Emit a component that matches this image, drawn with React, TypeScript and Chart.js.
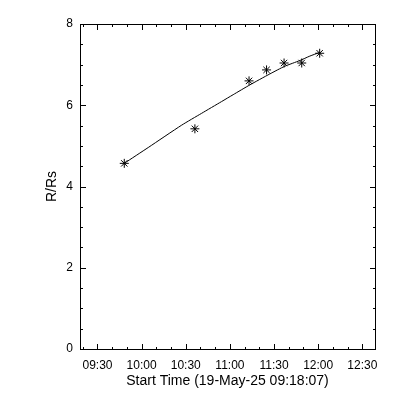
import React, { useEffect, useRef } from 'react';
import { Chart, registerables } from 'chart.js';

Chart.register(...registerables);

// Observed heights (asterisks)
const obsTimes = ['09:48:12', '10:36:12', '11:13:00', '11:24:54', '11:36:48', '11:48:48', '12:01:00'];
const obsValues = [4.57, 5.42, 6.6, 6.87, 7.04, 7.04, 7.28];

// Fitted curve
const fitTimes = ['09:48:12', '10:04:30', '10:27:12', '10:40:42', '10:54:18', '11:02:12', '11:13:30', '11:27:06', '11:37:18', '11:47:30', '11:54:18', '12:01:00'];
const fitValues = [4.57, 4.96, 5.51, 5.8, 6.09, 6.26, 6.5, 6.77, 6.96, 7.1, 7.21, 7.3];

const xStart = '09:18:07';
const xEnd = '12:38:36';
const xTickStepMin = 10;
const xLabelStepMin = 30;
const yMin = 0;
const yMax = 8;
const yTickStep = 0.5;
const yLabelStep = 2;
const xTitle = 'Start Time (19-May-25 09:18:07)';
const yTitle = 'R/Rs';

const toMin = (s: string) => {
  const [h, m, sec] = s.split(':').map(Number);
  return h * 60 + m + (sec || 0) / 60;
};
const isMult = (v: number, step: number) => Math.abs(v / step - Math.round(v / step)) < 1e-6;
const pad2 = (n: number) => String(n).padStart(2, '0');
const fmtTime = (v: number) => {
  const r = Math.round(v);
  return pad2(Math.floor(r / 60)) + ':' + pad2(r % 60);
};

const FONT = "'Liberation Sans', Arial, sans-serif";

const framePlugin = {
  id: 'idlFrame',
  afterDraw(chart: any) {
    const ctx = chart.ctx;
    const ca = chart.chartArea;
    const x = chart.scales.x;
    const y = chart.scales.y;
    const L = Math.round(ca.left), T = Math.round(ca.top), R = Math.round(ca.right), B = Math.round(ca.bottom);
    ctx.save();
    ctx.fillStyle = '#000';
    for (let v = Math.ceil(x.min / xTickStepMin) * xTickStepMin; v <= x.max; v += xTickStepMin) {
      const px = Math.round(x.getPixelForValue(v));
      const len = isMult(v, xLabelStepMin) ? 6 : 3;
      ctx.fillRect(px, B - len + 1, 1, len);
      ctx.fillRect(px, T, 1, len);
    }
    for (let v = Math.ceil(y.min / yTickStep) * yTickStep; v <= y.max + 1e-9; v += yTickStep) {
      const py = Math.round(y.getPixelForValue(v));
      const len = isMult(v, yLabelStep) ? 6 : 3;
      ctx.fillRect(L, py, len, 1);
      ctx.fillRect(R - len + 1, py, len, 1);
    }
    ctx.fillRect(L, T, R - L + 1, 1);
    ctx.fillRect(L, B, R - L + 1, 1);
    ctx.fillRect(L, T, 1, B - T + 1);
    ctx.fillRect(R, T, 1, B - T + 1);
    ctx.restore();
  },
};

export default function App() {
  const ref = useRef<HTMLCanvasElement | null>(null);

  useEffect(() => {
    if (!ref.current) return;
    const chart = new Chart(ref.current, {
      type: 'scatter',
      data: {
        datasets: [
          {
            data: fitTimes.map((t, i) => ({ x: toMin(t), y: fitValues[i] })),
            showLine: true,
            borderColor: '#000',
            borderWidth: 1,
            pointRadius: 0,
            tension: 0.2,
            fill: false,
          },
          {
            data: obsTimes.map((t, i) => ({ x: toMin(t), y: obsValues[i] })),
            showLine: false,
            pointStyle: 'star',
            pointRadius: 4.5,
            borderColor: '#000',
            backgroundColor: '#000',
            borderWidth: 1,
          },
        ],
      },
      options: {
        animation: false,
        responsive: false,
        devicePixelRatio: 1,
        layout: { padding: { left: 0, right: 25, top: 24, bottom: 0 } },
        plugins: { legend: { display: false }, tooltip: { enabled: false } },
        scales: {
          x: {
            type: 'linear',
            min: toMin(xStart),
            max: toMin(xEnd),
            afterBuildTicks: (s: any) => {
              s.ticks = s.ticks.filter((t: any) => isMult(t.value, xTickStepMin));
            },
            afterFit: (s: any) => {
              s.height = 51;
            },
            grid: { display: false, drawTicks: false },
            border: { display: false },
            ticks: {
              stepSize: xTickStepMin,
              includeBounds: false,
              autoSkip: false,
              maxRotation: 0,
              minRotation: 0,
              padding: 9,
              color: '#000',
              font: { family: FONT, size: 12 },
              callback: (v: any) => (isMult(Number(v), xLabelStepMin) ? fmtTime(Number(v)) : ''),
            },
            title: {
              display: true,
              text: xTitle,
              color: '#000',
              font: { family: FONT, size: 14 },
              padding: { top: 0, bottom: 10 },
            },
          },
          y: {
            type: 'linear',
            min: yMin,
            max: yMax,
            afterBuildTicks: (s: any) => {
              s.ticks = s.ticks.filter((t: any) => isMult(t.value, yTickStep));
            },
            afterFit: (s: any) => {
              s.width = 80;
            },
            grid: { display: false, drawTicks: false },
            border: { display: false },
            ticks: {
              stepSize: yTickStep,
              includeBounds: false,
              autoSkip: false,
              padding: 7,
              color: '#000',
              font: { family: FONT, size: 12 },
              callback: (v: any) => (isMult(Number(v), yLabelStep) ? String(Number(v)) : ''),
            },
            title: {
              display: true,
              text: yTitle,
              color: '#000',
              font: { family: FONT, size: 14 },
              padding: { top: 44, bottom: 0 },
            },
          },
        },
      },
      plugins: [framePlugin],
    });
    return () => chart.destroy();
  }, []);

  return (
    <div style={{ position: 'absolute', left: 0, top: 0, width: 400, height: 400, background: '#fff' }}>
      <canvas ref={ref} width={400} height={400} />
    </div>
  );
}
